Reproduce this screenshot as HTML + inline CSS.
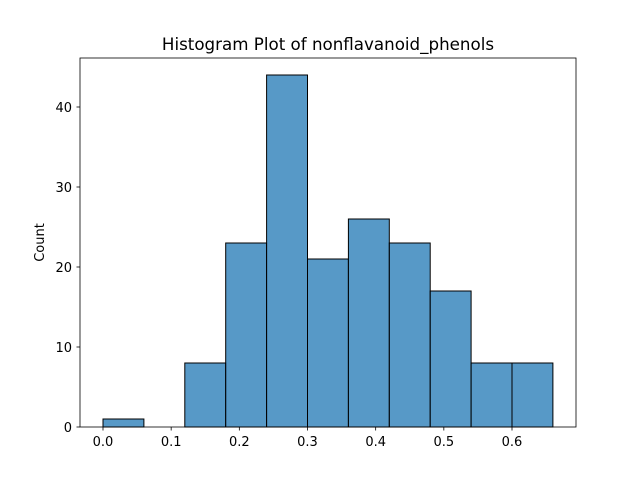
<!DOCTYPE html>
<html><head><meta charset="utf-8"><style>
body{margin:0;background:#fff}
svg text{font-family:"DejaVu Sans","Liberation Sans",sans-serif;fill:#000}
</style></head><body>
<svg width="640" height="480" viewBox="0 0 640 480">
<rect x="0" y="0" width="640" height="480" fill="#fff"/>
<g id="bars"></g>
<rect x="80" y="58" width="496" height="369" fill="none" stroke="#000" stroke-width="0.8"/>
<g id="xt"></g>
<g id="yt"></g>
<text x="328" y="50" font-size="16.7" text-anchor="middle">Histogram Plot of nonflavanoid_phenols</text>
<text transform="translate(44,242.5) rotate(-90)" font-size="13" text-anchor="middle">Count</text>
</svg>
<script>
const binEdges=[0,0.06,0.12,0.18,0.24,0.30,0.36,0.42,0.48,0.54,0.60,0.66];
const counts=[1,0,8,23,44,21,26,23,17,8,8];
const xTicks=[0,0.1,0.2,0.3,0.4,0.5,0.6];
const xTickLabels=["0.0","0.1","0.2","0.3","0.4","0.5","0.6"];
const yTicks=[0,10,20,30,40];
const NS="http://www.w3.org/2000/svg";
const X=v=>103+v*(512-103)/0.6;
const Y=v=>427-v*8;
const bars=document.getElementById('bars');
counts.forEach((c,i)=>{
 if(c<=0)return;
 const r=document.createElementNS(NS,'rect');
 r.setAttribute('x',X(binEdges[i]));r.setAttribute('width',X(binEdges[i+1])-X(binEdges[i]));
 r.setAttribute('y',Y(c));r.setAttribute('height',Y(0)-Y(c));
 r.setAttribute('fill','rgba(31,119,180,0.75)');r.setAttribute('stroke','#000');r.setAttribute('stroke-width','1');
 
 
 bars.appendChild(r);
});
const xt=document.getElementById('xt');
xTicks.forEach((t,i)=>{
 const l=document.createElementNS(NS,'line');
 l.setAttribute('x1',X(t));l.setAttribute('x2',X(t));l.setAttribute('y1',427);l.setAttribute('y2',430.5);l.setAttribute('stroke','#000');l.setAttribute('stroke-width','0.8');
 
 
 xt.appendChild(l);
 const tx=document.createElementNS(NS,'text');
 tx.setAttribute('x',X(t));tx.setAttribute('y',446);tx.setAttribute('font-size','13');tx.setAttribute('text-anchor','middle');
 tx.textContent=xTickLabels[i];
 
 
 xt.appendChild(tx);
});
const yt=document.getElementById('yt');
yTicks.forEach(t=>{
 const l=document.createElementNS(NS,'line');
 l.setAttribute('x1',76.5);l.setAttribute('x2',80);l.setAttribute('y1',Y(t));l.setAttribute('y2',Y(t));l.setAttribute('stroke','#000');l.setAttribute('stroke-width','0.8');
 
 
 yt.appendChild(l);
 const tx=document.createElementNS(NS,'text');
 tx.setAttribute('x',72);tx.setAttribute('y',Y(t)+5);tx.setAttribute('font-size','13');tx.setAttribute('text-anchor','end');
 tx.textContent=String(t);
 
 
 yt.appendChild(tx);
});
</script>
</body></html>
